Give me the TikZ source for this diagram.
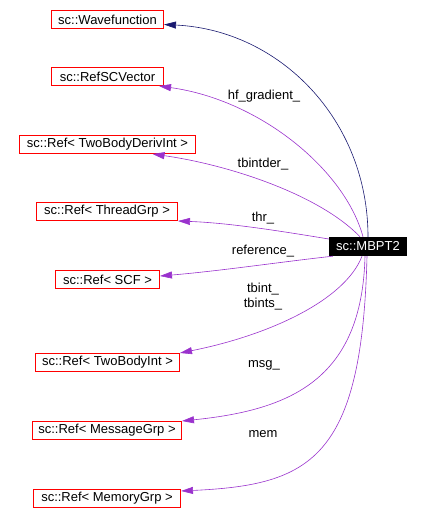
\documentclass[tikz,border=0pt]{standalone}
\usepackage{fontspec}
\setmainfont{Liberation Sans}
\usetikzlibrary{arrows.meta}

\begin{document}
\begin{tikzpicture}[x=1bp, y=-1bp, font=\fontsize{13bp}{15bp}\selectfont] % one unit is one pixel, y runs down
            % Define colors
            \definecolor{boxred}{RGB}{255,0,0}
            \definecolor{navyedge}{RGB}{25,25,112}
            \definecolor{purpleedge}{RGB}{154,50,205}

            % Styles for boxes and edges
            \tikzset{
                classbox/.style={draw=boxred, line width=1bp, inner xsep=0pt, inner ysep=0pt, minimum height=18bp, minimum width=#1},
                mainbox/.style={fill=black, text=white, inner xsep=6bp, inner ysep=0pt, minimum height=19bp, minimum width=78bp},
                inherit/.style={draw=navyedge, line width=0.6bp, -{Triangle[length=12bp, width=7bp]}},
                usage/.style={draw=purpleedge, line width=0.6bp, -{Triangle[length=12bp, width=7bp]}},
                edgelabel/.style={align=center, inner sep=0pt}
            }

            \useasboundingbox (0,0) rectangle (422,529);

            % The class itself
            \node[mainbox] (mbpt) at (368,246.5) {sc::MBPT2};

            % Its base class and members, one column on the left
            \node[classbox=112bp] (wave)     at (107.5,19.5)  {sc::Wavefunction};
            \node[classbox=112bp] (refsc)    at (107.5,76.5)  {sc::RefSCVector};
            \node[classbox=176bp] (derivint) at (107.5,144.5) {sc::Ref< TwoBodyDerivInt >};
            \node[classbox=141bp] (thread)   at (107,211.5)   {sc::Ref< ThreadGrp >};
            \node[classbox=104bp] (scf)      at (107.5,279.5) {sc::Ref< SCF >};
            \node[classbox=144bp] (tbint)    at (107.5,362.5) {sc::Ref< TwoBodyInt >};
            \node[classbox=149bp] (msggrp)   at (107,430.5)   {sc::Ref< MessageGrp >};
            \node[classbox=147bp] (memgrp)   at (107,498.5)   {sc::Ref< MemoryGrp >};

            % Inheritance edge
            \draw[inherit] (mbpt.north) .. controls (368,120) and (280,30) .. ([yshift=-5bp]wave.east);

            % Member edges
            \draw[usage] ([xshift=-5bp]mbpt.north) .. controls (345,170) and (260,100) .. ([xshift=-5bp]refsc.south east);
            \draw[usage] ([xshift=-8bp]mbpt.north) .. controls (320,195) and (230,165) .. ([xshift=45bp]derivint.south);
            \draw[usage] ([yshift=7.5bp]mbpt.west) .. controls (280,231) and (230,223) .. (thread.south east);
            \draw[usage] ([xshift=4bp]mbpt.south west) .. controls (280,262) and (220,271) .. ([yshift=3.5bp]scf.east);
            \draw[usage] ([xshift=-6bp]mbpt.south) .. controls (345,300) and (270,335) .. (tbint.north east);
            \draw[usage] ([xshift=-3bp]mbpt.south) .. controls (362,380) and (290,410) .. (msggrp.north east);
            \draw[usage] ([xshift=-1bp]mbpt.south) .. controls (362,460) and (310,485) .. ([yshift=-2bp]memgrp.north east);

            % Member names
            \node[edgelabel] (lgrad)  at (264,96)    {hf\_gradient\_};
            \node[edgelabel] (lder)   at (263,164)   {tbintder\_};
            \node[edgelabel] (lthr)   at (263,218)   {thr\_};
            \node[edgelabel] (lref)   at (263,251)   {reference\_};
            \node[edgelabel] (ltbint) at (263,296.5) {tbint\_\\tbints\_};
            \node[edgelabel] (lmsg)   at (264,365)   {msg\_};
            \node[edgelabel] (lmem)   at (263,434)   {mem};

        \end{tikzpicture}
\end{document}
